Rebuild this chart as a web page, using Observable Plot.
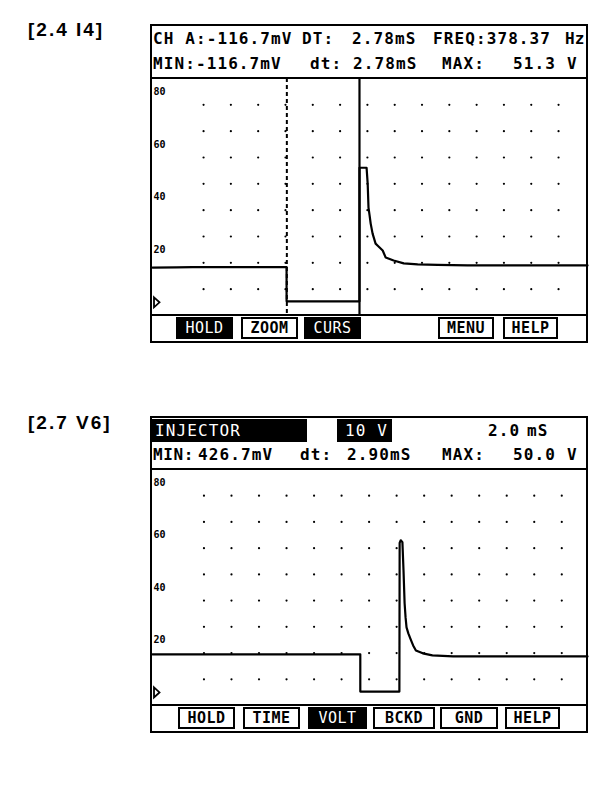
<!DOCTYPE html>
<html>
<head>
<meta charset="utf-8">
<script src="https://cdn.jsdelivr.net/npm/d3@7"></script>
<script src="https://cdn.jsdelivr.net/npm/@observablehq/plot@0.6"></script>
<style>
  body { margin: 0; background: #fff; }
  #root { position: relative; width: 608px; height: 802px; overflow: hidden; background: #fff; }
  .abs { position: absolute; }
  .mono { font-family: "DejaVu Sans Mono", monospace; font-weight: bold; white-space: pre; color: #000; }
</style>
</head>
<body>
<div id="root"></div>
<script>
// ---------------- data ----------------
const figureLabels = ["[2.4 I4]", "[2.7 V6]"];

// Panel 1 (1 ms / div) trace
const p1Time  = [0.13, 1.0, 1.6, 5.04, 5.04, 7.71, 7.71, 7.97, 8.01, 8.04, 8.08, 8.12, 8.19, 8.30, 8.37, 8.56, 8.67, 8.96, 9.33, 9.84, 10.57, 11.67, 13.5, 16.06];
const p1Volts = [13.2, 13.3, 13.4, 13.4, 0.4, 0.4, 51.1, 51.1, 45.1, 36.0, 33.0, 29.9, 26.1, 22.3, 21.6, 19.7, 17.0, 15.9, 14.8, 14.4, 14.2, 14.0, 14.0, 14.0];
const p1CursorDashed = [5.05];
const p1CursorSolid = [7.71];
const p1GridTimes = [2, 3, 4, 5, 6, 7, 8, 9, 10, 11, 12, 13, 14, 15];

// Panel 2 (2 ms / div) trace
const p2Time  = [0.26, 15.36, 15.36, 18.2, 18.22, 18.3, 18.42, 18.5, 18.58, 18.65, 18.72, 18.85, 19.05, 19.2, 19.4, 19.9, 20.6, 22.1, 31.87];
const p2Volts = [14.5, 14.5, 0.3, 0.3, 57.0, 58.0, 57.3, 46.6, 34.0, 28.6, 24.8, 22.5, 19.8, 17.9, 16.0, 14.9, 14.1, 13.7, 13.7];
const p2GridTimes = [4, 6, 8, 10, 12, 14, 16, 18, 20, 22, 24, 26, 28, 30];

const gridVolts = [5, 15, 25, 35, 45, 55, 65, 75];
const voltTickLabels = [20, 40, 60, 80];
const groundMarker = [0];

// header texts
const p1Row1 = ["CH A:-116.7mV", "DT:", "2.78mS", "FREQ:378.37", "Hz"];
const p1Row2 = ["MIN:-116.7mV", "dt:", "2.78mS", "MAX:", "51.3", "V"];
const p2Row1 = ["INJECTOR", "10 V", "2.0", "mS"];
const p2Row2 = ["MIN:", "426.7mV", "dt:", "2.90mS", "MAX:", "50.0", "V"];

// buttons
const p1Buttons = ["HOLD", "ZOOM", "CURS", "MENU", "HELP"];
const p1ButtonInverted = [true, false, true, false, false];
const p2Buttons = ["HOLD", "TIME", "VOLT", "BCKD", "GND", "HELP"];
const p2ButtonInverted = [false, false, true, false, false, false];

// ---------------- layout helpers ----------------
const root = document.getElementById("root");
function div(style, text, cls) {
  const d = document.createElement("div");
  d.className = "abs" + (cls ? " " + cls : "");
  Object.assign(d.style, style);
  if (text != null) d.textContent = text;
  root.appendChild(d);
  return d;
}
function textAt(text, x, yc, opts = {}) {
  return div({
    left: x + "px", top: (yc - 10) + "px", height: "20px", lineHeight: "20px",
    fontSize: (opts.size || 16) + "px", letterSpacing: (opts.ls ?? 1.1) + "px",
    color: opts.color || "#000", fontWeight: opts.weight || "bold"
  }, text, "mono");
}
function button(label, x0, x1, top, inverted) {
  div({
    left: x0 + "px", top: top + "px", width: (x1 - x0) + "px", height: "22px",
    boxSizing: "border-box", border: "2px solid #000",
    background: inverted ? "#000" : "#fff", color: inverted ? "#fff" : "#000",
    textAlign: "center", lineHeight: "18px", fontSize: "15px",
    fontWeight: inverted ? "normal" : "bold", letterSpacing: "0.5px"
  }, label, "mono");
}

// outlined right-pointing triangle (ground marker)
const rightTriangle = {
  draw(ctx, size) {
    const r = Math.sqrt(size / Math.PI);
    ctx.moveTo(-r * 0.5, -r);
    ctx.lineTo(r * 0.6, 0);
    ctx.lineTo(-r * 0.5, r);
    ctx.closePath();
  }
};

function makePlot(times, volts, gridTimes, xDomain, height, extra) {
  const trace = times.map((t, i) => ({t, v: volts[i]}));
  const grid = [];
  for (const t of gridTimes) for (const v of gridVolts) grid.push({t, v});
  return Plot.plot({
    width: 435, height, margin: 0,
    style: {background: "transparent", overflow: "visible"},
    x: {domain: xDomain, axis: null},
    y: {domain: [-5, 85], axis: null},
    marks: [
      Plot.dot(grid, {x: "t", y: "v", r: 1.1, fill: "#000", stroke: null}),
      ...extra,
      Plot.line(trace, {x: "t", y: "v", stroke: "#000", strokeWidth: 2.2, curve: "linear"}),
      Plot.text(voltTickLabels, {y: d => d, text: d => String(d), frameAnchor: "left", textAnchor: "start", dx: 1,
        fontSize: 10, fontWeight: "bold", fontFamily: "DejaVu Sans Mono", fill: "#000"}),
      Plot.dot(groundMarker, {y: d => d, frameAnchor: "left", dx: 4, r: 5, symbol: rightTriangle,
        fill: "none", stroke: "#000", strokeWidth: 1.8})
    ]
  });
}
function placeSvg(svg, left, top) {
  svg.style.position = "absolute";
  svg.style.left = left + "px";
  svg.style.top = top + "px";
  root.appendChild(svg);
}

// ---------------- figure labels ----------------
div({left: "28px", top: "18px", fontFamily: "'Liberation Sans', Arial, sans-serif", fontWeight: "bold",
  fontSize: "19px", letterSpacing: "2px", lineHeight: "24px"}, figureLabels[0]);
div({left: "28px", top: "411px", fontFamily: "'Liberation Sans', Arial, sans-serif", fontWeight: "bold",
  fontSize: "19px", letterSpacing: "2px", lineHeight: "24px"}, figureLabels[1]);

// ---------------- panel 1 ----------------
const svg1 = makePlot(p1Time, p1Volts, p1GridTimes, [0.13, 16.06], 237, [
  Plot.ruleX(p1CursorDashed, {stroke: "#000", strokeWidth: 2, strokeDasharray: "4,3"}),
  Plot.ruleX(p1CursorSolid, {stroke: "#000", strokeWidth: 2.2})
]);
placeSvg(svg1, 152, 78);
div({left: "150px", top: "24px", width: "438px", height: "319px", boxSizing: "border-box", border: "2px solid #000"});
div({left: "150px", top: "77px", width: "438px", height: "2px", background: "#000"});
div({left: "150px", top: "314px", width: "438px", height: "2px", background: "#000"});
[153, 302, 352, 433].forEach((x, i) => textAt(p1Row1[i], x, 39));
textAt(p1Row1[4], 565, 39, {ls: 0});
[153, 310, 353, 442, 513, 567].forEach((x, i) => textAt(p1Row2[i], x, 64));
[[176, 233], [241, 298], [304, 361], [438, 494], [503, 558]].forEach(([a, b], i) =>
  button(p1Buttons[i], a, b, 317, p1ButtonInverted[i]));

// ---------------- panel 2 ----------------
const svg2 = makePlot(p2Time, p2Volts, p2GridTimes, [0.26, 31.87], 236, []);
placeSvg(svg2, 152, 469);
div({left: "150px", top: "416px", width: "438px", height: "317px", boxSizing: "border-box", border: "2px solid #000"});
div({left: "150px", top: "468px", width: "438px", height: "2px", background: "#000"});
div({left: "150px", top: "704px", width: "438px", height: "2px", background: "#000"});
div({left: "152px", top: "419px", width: "155px", height: "23px", background: "#000"});
div({left: "337px", top: "419px", width: "55px", height: "23px", background: "#000"});
textAt(p2Row1[0], 155, 431, {color: "#fff", weight: "normal"});
textAt(p2Row1[1], 345, 431, {color: "#fff", weight: "normal"});
textAt(p2Row1[2], 488, 431);
textAt(p2Row1[3], 527, 431);
textAt(p2Row2[0], 153, 455, {ls: 0.6});
[198, 300, 347, 442, 513, 567].forEach((x, i) => textAt(p2Row2[i + 1], x, 455));
[[178, 235], [243, 300], [308, 367], [373, 435], [440, 498], [505, 560]].forEach(([a, b], i) =>
  button(p2Buttons[i], a, b, 707, p2ButtonInverted[i]));
</script>
</body>
</html>
